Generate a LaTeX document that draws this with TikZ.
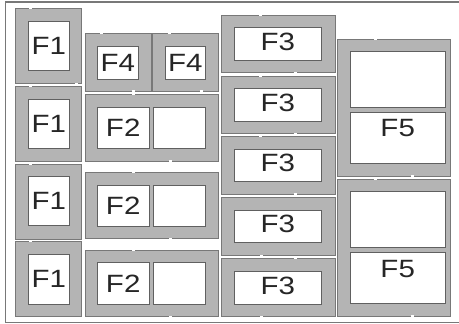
\documentclass[tikz,border=0pt]{standalone}
\usepackage{fontspec}
\setmainfont{Liberation Sans}[FakeStretch=1.18]
\usetikzlibrary{positioning}
\definecolor{framegray}{RGB}{180,180,180}
\definecolor{edgegray}{RGB}{120,120,120}

\begin{document}
\begin{tikzpicture}[x=1pt, y=-1pt,
    frame/.style={fill=framegray, draw=edgegray, line width=0.6pt},
    slot/.style={fill=white, draw=edgegray!80!black, line width=0.6pt},
    notch/.style={draw=white, line width=1.2pt},
    every node/.style={font=\fontsize{25}{30}\selectfont, text=black!85, inner sep=0pt},
]
\useasboundingbox (0,0) rectangle (459,324);

% outer border
\draw[edgegray, line width=1.5pt] (5.7,2) rectangle (470,322.7);

% F1 column
\foreach \t/\b in {8.3/83.3, 86/161, 164/239, 241.7/316.7}
  \draw[frame] (15.3,\t) rectangle (81.7,\b);
\foreach \t/\b in {21.7/70.7, 99.3/148.3, 176.7/225.7, 254.3/304}
  \draw[slot] (28.3,\t) rectangle (69.3,\b);
\node (f1a) at (48.8,46.2) {F1};
\node (f1b) at (48.8,123.8) {F1};
\node (f1c) at (48.8,201.2) {F1};
\node (f1d) at (48.8,279.2) {F1};

% F4 pair
\draw[frame] (85,33.3) rectangle (151.7,91);
\draw[frame] (152.3,33.3) rectangle (218.3,91);
\draw[slot] (97,46) rectangle (138.7,79.3);
\draw[slot] (165,46) rectangle (205.7,79.3);
\node (f4a) at (117.8,62.7) {F4};
\node (f4b) at (185.3,62.7) {F4};

% F2 rows
\foreach \t/\b/\it/\ib in {94.3/161/107.3/148.3, 172.3/238.3/185/226, 250/316.7/262.7/304} {
  \draw[frame] (85,\t) rectangle (218.3,\b);
  \draw[slot] (97,\it) rectangle (149.3,\ib);
  \draw[slot] (153.3,\it) rectangle (205.7,\ib);
}
\node (f2a) at (123.2,127.8) {F2};
\node (f2b) at (123.2,205.5) {F2};
\node (f2c) at (123.2,283.3) {F2};

% F3 column
\foreach \t/\b/\it/\ib in {15/72.3/27.3/60.7, 76/133.3/88.3/121.7, 136.7/194/149.3/181.7,
    197.3/255.7/210/242.7, 258.3/316.7/271/304} {
  \draw[frame] (221.7,\t) rectangle (335,\b);
  \draw[slot] (234,\it) rectangle (321.7,\ib);
}
\node (f3a) at (277.8,41.5) {F3};
\node (f3b) at (277.8,102.5) {F3};
\node (f3c) at (277.8,163) {F3};
\node (f3d) at (277.8,224) {F3};
\node (f3e) at (277.8,285.5) {F3};

% F5 column
\foreach \t/\b/\ua/\ub/\la/\lb in {39/176/51/107.3/112.3/163.3, 179.3/316/191.7/247.3/252.3/303.3} {
  \draw[frame] (337.3,\t) rectangle (450,\b);
  \draw[slot] (350,\ua) rectangle (445.3,\ub);
  \draw[slot] (350,\la) rectangle (445.3,\lb);
}
\node (f5a) at (397.7,128) {F5};
\node (f5b) at (397.7,269.5) {F5};

% small gaps in the frame edges
\foreach \x/\y in {30.7/8.3, 76.7/83.3, 30.7/86, 30.7/164, 30.7/241.7,
    101.7/33.3, 169/33.3, 133.3/91, 201.7/91,
    133.3/94.3, 170.7/161, 133.3/172.3, 170.7/238.3, 133.3/250, 170.7/316.7,
    260.7/15, 295/72.3, 260.7/76, 295/133.3, 260.7/136.7, 295/194,
    261.7/255.7, 295/258.3, 261.7/316.7,
    375/39, 412.7/176, 375/179.3, 412.7/316}
  \draw[notch] (\x-1.5,\y) -- (\x+1.5,\y);

\end{tikzpicture}
\end{document}
